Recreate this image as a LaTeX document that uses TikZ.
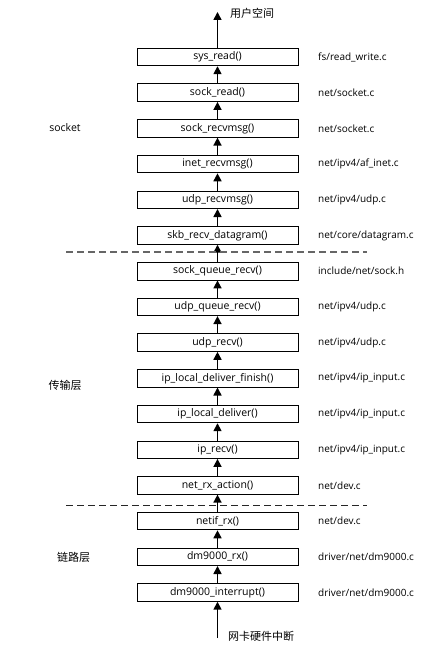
\documentclass[tikz,border=0pt]{standalone}
\usepackage{fontspec}
\setmainfont{Open Sans}
\newfontfamily\cjk{Noto Sans CJK SC}
\usetikzlibrary{arrows.meta}
\begin{document}
\begin{tikzpicture}[x=1pt,y=-1pt,
  fbox/.style={draw, line width=0.9pt, minimum width=161pt, minimum height=17.5pt, inner sep=0pt, font=\fontsize{10.5}{12}\selectfont},
  flabel/.style={anchor=west, inner sep=0pt, font=\fontsize{10}{11}\selectfont},
  layer/.style={inner sep=0pt, font=\cjk\fontsize{11}{13}\selectfont},
  arr/.style={line width=1.6pt, -{Triangle[width=8pt,length=8pt]}},
  sep/.style={line width=1.3pt, dash pattern=on 6.5pt off 4.5pt}]
\useasboundingbox (0,0) rectangle (435,650);
\foreach \t/\f [count=\i] in {
  {sys\_read()}/{fs/read\_write.c},
  {sock\_read()}/{net/socket.c},
  {sock\_recvmsg()}/{net/socket.c},
  {inet\_recvmsg()}/{net/ipv4/af\_inet.c},
  {udp\_recvmsg()}/{net/ipv4/udp.c},
  {skb\_recv\_datagram()}/{net/core/datagram.c},
  {sock\_queue\_recv()}/{include/net/sock.h},
  {udp\_queue\_recv()}/{net/ipv4/udp.c},
  {udp\_recv()}/{net/ipv4/udp.c},
  {ip\_local\_deliver\_finish()}/{net/ipv4/ip\_input.c},
  {ip\_local\_deliver()}/{net/ipv4/ip\_input.c},
  {ip\_recv()}/{net/ipv4/ip\_input.c},
  {net\_rx\_action()}/{net/dev.c},
  {netif\_rx()}/{net/dev.c},
  {dm9000\_rx()}/{driver/net/dm9000.c},
  {dm9000\_interrupt()}/{driver/net/dm9000.c}}
{
  \node[fbox] (b\i) at (217.5, {57+35.7*(\i-1)}) {\t};
  \node[flabel] (f\i) at (318, {57+35.7*(\i-1)}) {\f};
}
\foreach \i in {2,...,16}{
  \pgfmathtruncatemacro{\j}{\i-1}
  \draw[arr] (b\i.north) -- (b\j.south);
}
\coordinate (top) at (217.5,12);
\coordinate (bot) at (217.5,638);
\draw[arr] (b1.north) -- (top);
\draw[arr] (bot) -- (b16.south);
\node[layer, anchor=west] (us) at (230,13) {用户空间};
\node[layer, anchor=west] (hw) at (228,636) {网卡硬件中断};
\node[inner sep=0pt, font=\fontsize{10.5}{12}\selectfont] (sk) at (65,128) {socket};
\node[layer] (tl) at (65,385) {传输层};
\node[layer] (ll) at (73.5,557) {链路层};
\draw[sep, black!60] (66,252) -- (367,252);
\draw[sep, black!85] (66,505.5) -- (367,505.5);
\end{tikzpicture}
\end{document}
